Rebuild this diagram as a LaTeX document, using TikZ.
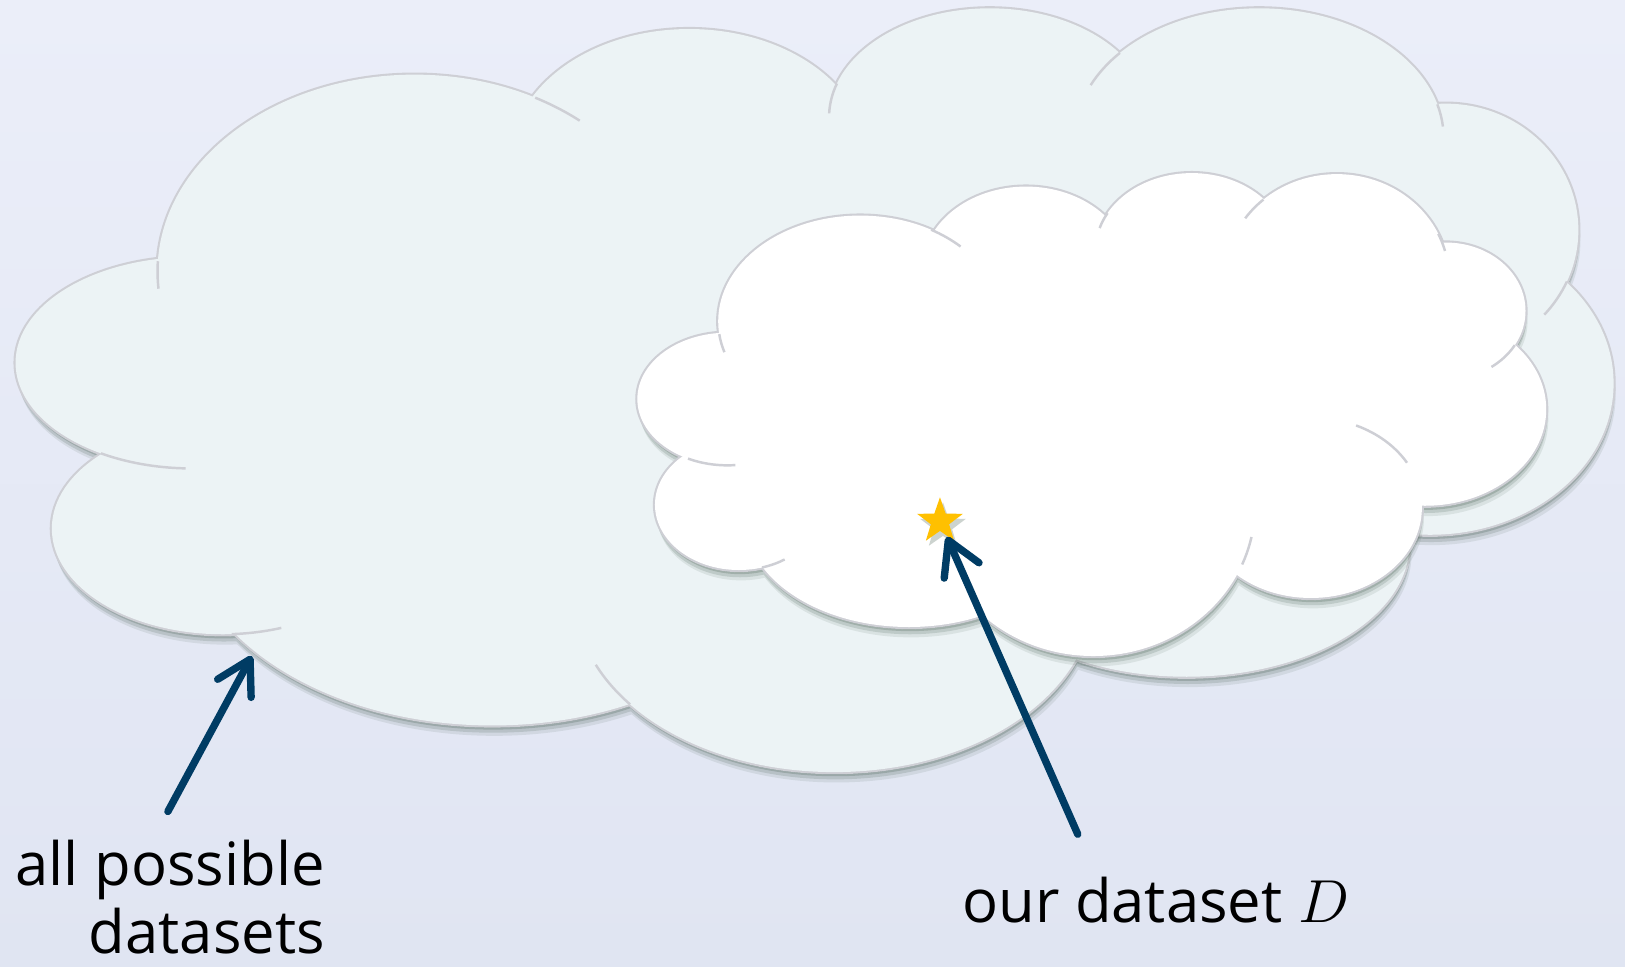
\documentclass[tikz,border=0pt]{standalone}
\usepackage{fontspec}
\setmainfont{Open Sans}
\usetikzlibrary{arrows.meta,shapes.geometric,shadows}

\definecolor{bgtop}{RGB}{235,238,249}
\definecolor{bgbot}{RGB}{224,229,242}
\definecolor{mistfill}{RGB}{236,243,245}
\definecolor{rimgray}{RGB}{206,207,213}
\definecolor{shadegreen}{RGB}{55,80,65}
\definecolor{navyarrow}{RGB}{0,60,100}
\definecolor{stargold}{RGB}{255,192,0}

% cloud lobes: centre x/centre y/x radius/y radius (slide pixels)
\newcommand{\alllobes}{400/262/248/190, 665/153/172/125, 955/113/155/105, 1215/133/178/125, 1395/222/128/122, 1380/370/177/146, 1145/525/215/128, 805/575/250/170, 475/500/299/200, 215/510/165/102, 185/350/170/102}
\newcommand{\ourlobes}{830/310/137/102, 990/260/100/80, 1150/242/93/75, 1290/268/108/100, 1395/300/77/66, 1375/395/117/93, 1265/490/107/87, 1055/488/156/145, 877/500/158/105, 713/487/81/63, 702/385/87/64}
% inner hooks: lobe, then start/end angle
\newcommand{\allhooks}{400/262/248/190/-62/-50, 955/113/155/105/198/182, 1215/133/178/125/221/204, 1215/133/178/125/-15/-5, 1395/222/128/122/24/42, 400/262/248/190/183/175, 185/350/170/102/121/92, 215/510/165/102/87/70, 805/575/250/170/142/157}
\newcommand{\ourhooks}{830/310/137/102/-60/-45, 1150/242/93/75/209/197, 1290/268/108/100/229/215, 1290/268/108/100/-25/-15, 1395/300/77/66/30/55, 1265/490/107/87/-66/-30, 1055/488/156/145/23/12, 713/487/81/63/74/57, 702/385/87/64/116/85, 830/310/137/102/173/163}
% soft shadow layers: shift x/shift y/opacity
\newcommand{\shadowsteps}{0/2/0.25, 1/4/0.22, 1/7/0.16, 2/10/0.1}

\begin{document}
\begin{tikzpicture}[x=0.010364cm, y=-0.010364cm,
  rim/.style={draw=rimgray, line width=1.2pt},
  hookline/.style={draw=rimgray, line width=0.7pt},
  pointer/.style={draw=navyarrow, line width=2.1pt, line cap=round,
    -{Straight Barb[round, length=3.3mm, width=3.8mm]}},
  labeltext/.style={inner sep=0pt, font=\fontsize{17}{19.4}\selectfont},
  goldstar/.style={star, star points=5, star point ratio=2.5, fill=stargold,
    inner sep=0pt, minimum size=4.8mm}]

% background
\useasboundingbox (0,0) rectangle (1568,933);
\shade[top color=bgtop, bottom color=bgbot] (0,0) rectangle (1568,933);

% all possible datasets
\foreach \dx/\dy/\op in \shadowsteps {
  \begin{scope}[transparency group, opacity=\op]
    \foreach \cx/\cy/\rx/\ry in \alllobes
      \fill[shadegreen] (\cx+\dx,\cy+\dy) ellipse [x radius=\rx, y radius=\ry];
  \end{scope}
}
\foreach \cx/\cy/\rx/\ry in \alllobes
  \draw[rim] (\cx,\cy) ellipse [x radius=\rx, y radius=\ry];
\foreach \cx/\cy/\rx/\ry in \alllobes
  \fill[mistfill] (\cx,\cy) ellipse [x radius=\rx, y radius=\ry];
\fill[mistfill] (800,380) ellipse [x radius=600, y radius=230];
\foreach \cx/\cy/\rx/\ry/\a/\b in \allhooks
  \draw[hookline] ({\cx+\rx*cos(\a)},{\cy+\ry*sin(\a)}) arc[start angle=\a, end angle=\b, x radius=\rx, y radius=\ry];

% our dataset
\foreach \dx/\dy/\op in \shadowsteps {
  \begin{scope}[transparency group, opacity=\op]
    \foreach \cx/\cy/\rx/\ry in \ourlobes
      \fill[shadegreen] (\cx+\dx,\cy+\dy) ellipse [x radius=\rx, y radius=\ry];
  \end{scope}
}
\foreach \cx/\cy/\rx/\ry in \ourlobes
  \draw[rim] (\cx,\cy) ellipse [x radius=\rx, y radius=\ry];
\foreach \cx/\cy/\rx/\ry in \ourlobes
  \fill[white] (\cx,\cy) ellipse [x radius=\rx, y radius=\ry];
\fill[white] (1050,400) ellipse [x radius=330, y radius=150];
\foreach \cx/\cy/\rx/\ry/\a/\b in \ourhooks
  \draw[hookline] ({\cx+\rx*cos(\a)},{\cy+\ry*sin(\a)}) arc[start angle=\a, end angle=\b, x radius=\rx, y radius=\ry];

\node[goldstar, drop shadow={shadow xshift=0.3mm, shadow yshift=-0.5mm, opacity=0.25, fill=shadegreen}] (star) at (907,503) {};

% labels and pointers
\node[labeltext, anchor=north east, align=right] (alllabel) at (314,810) {all possible\\datasets};
\node[labeltext, anchor=base west] (ourlabel) at (928,890) {our dataset $D$};
\coordinate (alltail) at (162,783);
\coordinate (alltip) at (243,633);
\coordinate (ourtail) at (1040,805);
\draw[pointer] (alltail) -- (alltip);
\draw[pointer, shorten >=1.7mm] (ourtail) -- (star.center);
\end{tikzpicture}
\end{document}
